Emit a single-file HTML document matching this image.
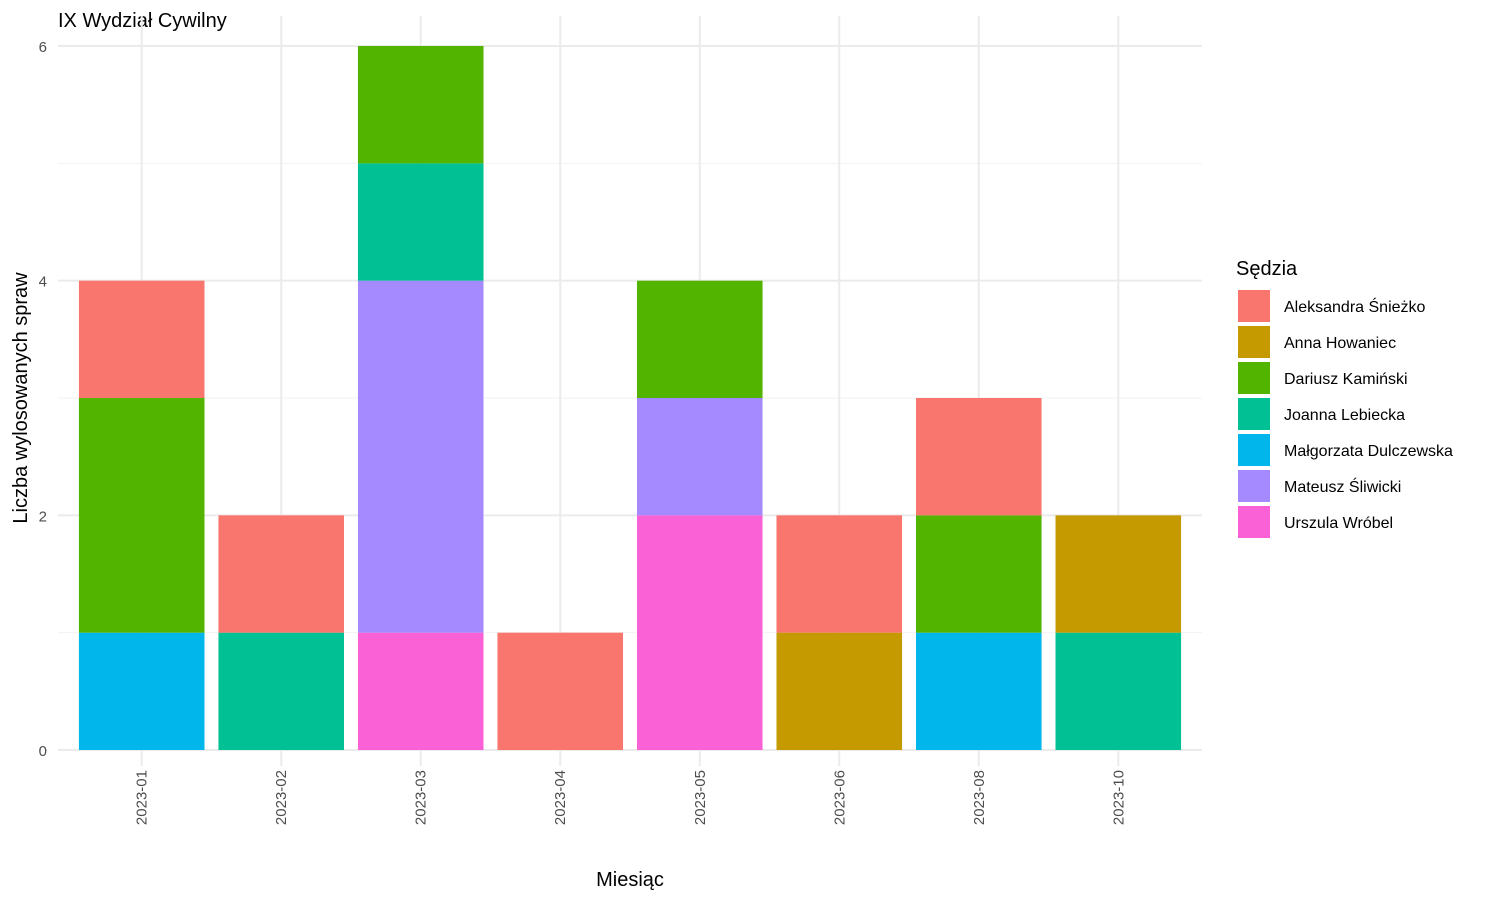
<!DOCTYPE html>
<html><head><meta charset="utf-8"><style>
body{margin:0;background:#fff;font-family:"Liberation Sans",sans-serif}
svg text{font-family:"Liberation Sans",sans-serif}
</style></head><body>
<svg id="chart" width="1500" height="900" xmlns="http://www.w3.org/2000/svg">
<text x="58" y="27" font-size="20" fill="#000">IX Wydział Cywilny</text>
<g id="grid"></g><g id="bars"></g><g id="axes"></g><g id="legend"></g>
<text x="630" y="886" font-size="20" text-anchor="middle" fill="#000">Miesiąc</text>
<text transform="translate(27,398) rotate(-90)" font-size="20" text-anchor="middle" fill="#000">Liczba wylosowanych spraw</text>
</svg>
<script>
const months = ["2023-01","2023-02","2023-03","2023-04","2023-05","2023-06","2023-08","2023-10"];
const judges = ["Aleksandra Śnieżko","Anna Howaniec","Dariusz Kamiński","Joanna Lebiecka","Małgorzata Dulczewska","Mateusz Śliwicki","Urszula Wróbel"];
const colors = ["#F8766D","#C49A00","#53B400","#00C094","#00B6EB","#A58AFF","#FB61D7"];
// counts[judge][month]
const aleksandra = [1,1,0,1,0,1,1,0];
const anna       = [0,0,0,0,0,1,0,1];
const dariusz    = [2,0,1,0,1,0,1,0];
const joanna     = [0,1,1,0,0,0,0,1];
const malgorzata = [1,0,0,0,0,0,1,0];
const mateusz    = [0,0,3,0,1,0,0,0];
const urszula    = [0,0,1,0,2,0,0,0];
const yTicks = [0,2,4,6];
const series = [aleksandra,anna,dariusz,joanna,malgorzata,mateusz,urszula];
const NS="http://www.w3.org/2000/svg";
const x0=58,x1=1202,yBase=750,yTop=46,yMax=6;
const step=(x1-x0)/(months.length-1+1.2);
const xc=i=>x0+step*(0.6+i);
const y=v=>yBase-(yBase-yTop)*v/yMax;
const bw=step*0.9;
function mk(tag,attrs,parent){const e=document.createElementNS(NS,tag);for(const k in attrs)e.setAttribute(k,attrs[k]);document.getElementById(parent).appendChild(e);return e;}
for(let v=1;v<yMax;v+=2){const l=mk("line",{x1:x0,x2:x1,y1:y(v),y2:y(v),stroke:"#f2f2f2","stroke-width":1},"grid");

}
yTicks.forEach(v=>{const l=mk("line",{x1:x0,x2:x1,y1:y(v),y2:y(v),stroke:"#ebebeb","stroke-width":2},"grid");


const t=mk("text",{x:47,y:y(v)+6,"font-size":15,fill:"#4d4d4d","text-anchor":"end"},"axes");t.textContent=v;

});
months.forEach((m,i)=>{const l=mk("line",{x1:xc(i),x2:xc(i),y1:yTop-30,y2:yBase+16,stroke:"#ebebeb","stroke-width":2},"grid");


const t=mk("text",{transform:`translate(${xc(i)+5},${yBase+20}) rotate(-90)`,"font-size":15,fill:"#4d4d4d","text-anchor":"end"},"axes");t.textContent=m;


let cum=0;
for(let j=judges.length-1;j>=0;j--){const v=series[j][i];if(!v)continue;
const r=mk("rect",{x:xc(i)-bw/2,y:y(cum+v),width:bw,height:y(cum)-y(cum+v),fill:colors[j]},"bars");


cum+=v;}});
const lt=mk("text",{x:1236,y:275,"font-size":20,fill:"#000"},"legend");lt.textContent="Sędzia";


judges.forEach((n,j)=>{const yy=290+36*j;
const r=mk("rect",{x:1238,y:yy,width:32,height:32,fill:colors[j]},"legend");


const t=mk("text",{x:1284,y:yy+22,"font-size":16,fill:"#000"},"legend");t.textContent=n;

});
</script>
</body></html>
